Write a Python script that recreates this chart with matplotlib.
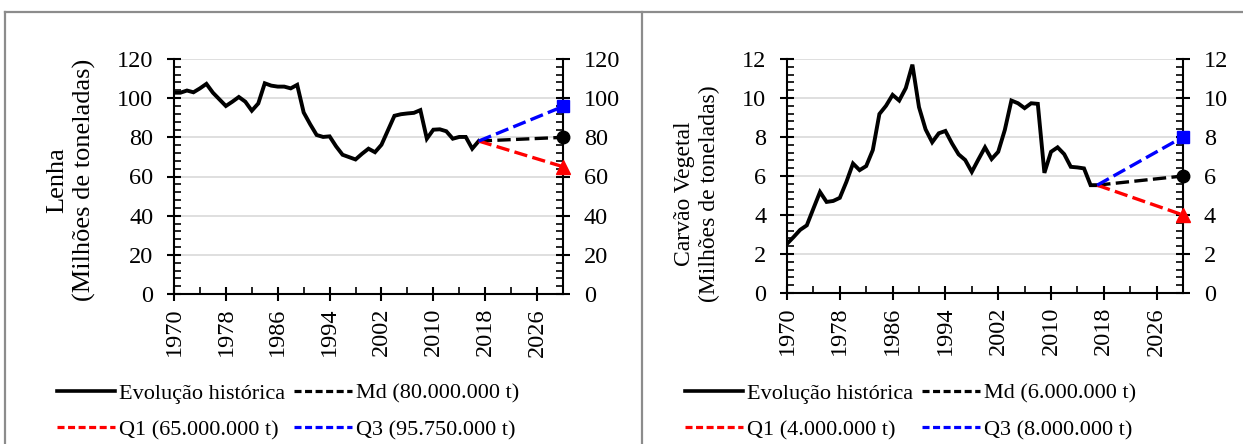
import matplotlib
matplotlib.use("Agg")
import numpy as np
import matplotlib.pyplot as plt
from matplotlib.lines import Line2D
from matplotlib.ticker import FixedLocator

plt.rcParams['font.family'] = ['Liberation Serif', 'DejaVu Serif']

# historical years
years = list(range(1970, 2018))

# Lenha (million t)
lenha = [102.8, 102.8, 103.9, 103.0, 105.0, 107.3, 102.8, 99.4, 96.0, 98.2,
         100.6, 98.2, 93.6, 97.3, 107.6, 106.4, 105.9, 105.9, 105.0, 106.8,
         92.7, 86.7, 81.2, 80.2, 80.5, 75.4, 71.1, 69.9, 68.7, 71.6,
         74.2, 72.4, 76.2, 83.6, 91.0, 91.8, 92.2, 92.5, 93.9, 79.3,
         83.9, 84.1, 83.1, 79.3, 80.2, 80.2, 74.2, 78.1]

# Carvao vegetal (million t)
carvao = [2.52, 2.87, 3.24, 3.47, 4.33, 5.18, 4.67, 4.72, 4.88, 5.70,
          6.64, 6.30, 6.51, 7.33, 9.18, 9.60, 10.16, 9.87, 10.51, 11.71,
          9.53, 8.39, 7.73, 8.19, 8.31, 7.67, 7.11, 6.82, 6.21, 6.85,
          7.47, 6.87, 7.24, 8.36, 9.87, 9.73, 9.48, 9.73, 9.70, 6.16,
          7.24, 7.47, 7.12, 6.47, 6.44, 6.39, 5.53, 5.53]

# projections 2017 -> 2030
proj_years = [2017, 2030]
lenha_md = [78.1, 80.0]
lenha_q1 = [78.1, 65.0]
lenha_q3 = [78.1, 95.75]
carvao_md = [5.53, 6.0]
carvao_q1 = [5.53, 4.0]
carvao_q3 = [5.53, 8.0]

lenha_labels = ["Evolução histórica", "Md (80.000.000 t)",
                "Q1 (65.000.000 t)", "Q3 (95.750.000 t)"]
carvao_labels = ["Evolução histórica", "Md (6.000.000 t)",
                 "Q1 (4.000.000 t)", "Q3 (8.000.000 t)"]

W, H = 1243, 444
fig = plt.figure(figsize=(W / 100, H / 100), dpi=100)
TICK_FS = 17.5
LEG_FS = 16


def px_rect(x0, y0, x1, y1):
    return [x0 / W, 1 - y1 / H, (x1 - x0) / W, (y1 - y0) / H]


def draw_panel(rect, hist, md, q1, q3, ymax, ystep, yminor, labels, ylabel,
               ylabel_xy, ylabel_fs, legend_x):
    ax = fig.add_axes(rect)
    ax.plot(years, hist, color='black', lw=2.8, solid_joinstyle='miter')
    dash = (0, (4, 1.6))
    ax.plot(proj_years, md, color='black', lw=2.4, ls=dash)
    ax.plot(proj_years, q1, color='red', lw=2.4, ls=dash)
    ax.plot(proj_years, q3, color='blue', lw=2.4, ls=dash)
    ax.plot([2030], [md[1]], 'o', color='black', ms=9, clip_on=False, zorder=5)
    ax.plot([2030], [q1[1]], '^', color='red', ms=9.5, clip_on=False, zorder=5)
    ax.plot([2030], [q3[1]], 's', color='blue', ms=8.5, clip_on=False, zorder=5)

    ax.set_xlim(1970, 2030)
    ax.set_ylim(0, ymax)
    ax.xaxis.set_major_locator(FixedLocator(np.arange(1970, 2027, 8)))
    ax.xaxis.set_minor_locator(FixedLocator(np.arange(1970, 2031, 4)))
    ax.yaxis.set_major_locator(FixedLocator(np.arange(0, ymax + 0.01, ystep)))
    ax.yaxis.set_minor_locator(FixedLocator(np.arange(0, ymax + 0.01, yminor)))
    ax.grid(axis='y', color='#d9d9d9', lw=1.2, zorder=0)
    ax.set_axisbelow(True)
    ax.spines['top'].set_visible(False)
    for s in ['left', 'right', 'bottom']:
        ax.spines[s].set_linewidth(1.5)
    ax.tick_params(which='major', direction='inout', length=10, width=1.5,
                   labelsize=TICK_FS, right=True, labelright=True, pad=5)
    ax.tick_params(which='minor', direction='in', length=5, width=1.2, right=True)
    ax.tick_params(axis='y', which='major', pad=10)
    plt.setp(ax.get_xticklabels(), rotation=90)

    fig.text(ylabel_xy[0] / W, 1 - ylabel_xy[1] / H, ylabel, rotation=90,
             ha='center', va='center', multialignment='center',
             fontsize=ylabel_fs, linespacing=1.25)

    ldash = (0, (2.2, 1.1))
    handles = [Line2D([], [], color='black', lw=2.6),
               Line2D([], [], color='red', lw=2.3, ls=ldash),
               Line2D([], [], color='black', lw=2.3, ls=ldash),
               Line2D([], [], color='blue', lw=2.3, ls=ldash)]
    labs = [labels[0], labels[2], labels[1], labels[3]]
    fig.legend(handles, labs, ncol=2, loc='upper left',
               bbox_to_anchor=(legend_x / W, 1 - 383 / H), frameon=False,
               fontsize=LEG_FS, borderpad=0, borderaxespad=0, handlelength=2.6,
               handletextpad=0.2, columnspacing=0.4, labelspacing=0.72)
    return ax


draw_panel(px_rect(174, 59, 563, 294), lenha, lenha_md, lenha_q1, lenha_q3,
           120, 20, 4, lenha_labels, "Lenha\n(Milhões de toneladas)",
           (71, 180), 19, 57)
draw_panel(px_rect(787, 59, 1183, 293), carvao, carvao_md, carvao_q1, carvao_q3,
           12, 2, 0.4, carvao_labels, "Carvão Vegetal\n(Milhões de toneladas)",
           (697, 194), 17, 685)

# panel borders
bc = '#8c8c8c'
fig.add_artist(Line2D([5 / W, 1], [1 - 12 / H, 1 - 12 / H], color=bc, lw=1.6))
fig.add_artist(Line2D([5 / W, 5 / W], [0, 1 - 12 / H], color=bc, lw=1.6))
fig.add_artist(Line2D([642 / W, 642 / W], [0, 1 - 12 / H], color=bc, lw=1.6))

fig.savefig("out.png", dpi=100)
